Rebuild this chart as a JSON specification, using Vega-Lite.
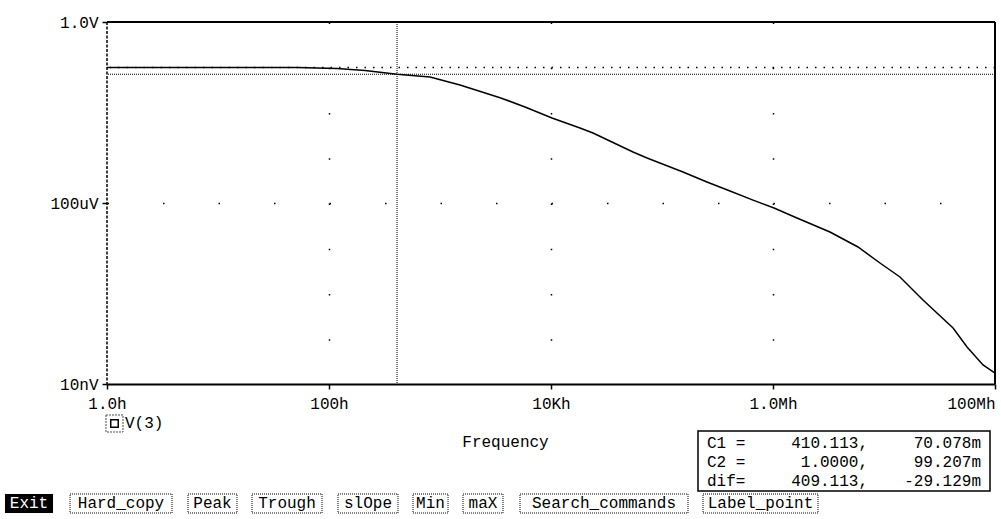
{
  "$schema": "https://vega.github.io/schema/vega-lite/v6.json",
  "width": 888,
  "height": 362,
  "autosize": {"type": "none"},
  "padding": {"left": 107, "top": 22, "right": 6, "bottom": 135},
  "background": "white",
  "config": {
    "view": {"stroke": null},
    "font": "Liberation Mono",
    "text": {"font": "Liberation Mono", "fontSize": 16, "color": "black", "baseline": "middle"}
  },
  "datasets": {
    "curve": [
      {"f": 1, "v": 0.0992}, {"f": 5, "v": 0.0992}, {"f": 20, "v": 0.0990}, {"f": 51.5, "v": 0.0982},
      {"f": 118, "v": 0.0938}, {"f": 211, "v": 0.0848}, {"f": 410.113, "v": 0.070078}, {"f": 813, "v": 0.0609},
      {"f": 1514, "v": 0.0405}, {"f": 3475, "v": 0.02123}, {"f": 5834, "v": 0.01324}, {"f": 10210, "v": 0.00755},
      {"f": 18240, "v": 0.00454}, {"f": 23900, "v": 0.00352}, {"f": 54800, "v": 0.00134}, {"f": 73300, "v": 0.000987},
      {"f": 154600, "v": 0.000484}, {"f": 254000, "v": 0.000291}, {"f": 410000, "v": 0.000184}, {"f": 661000, "v": 0.000116},
      {"f": 1021000, "v": 7.76e-5}, {"f": 1644000, "v": 4.67e-5}, {"f": 3260000, "v": 2.29e-5}, {"f": 5830000, "v": 1.066e-5},
      {"f": 9200000, "v": 4.72e-6}, {"f": 13930000, "v": 2.32e-6}, {"f": 22450000, "v": 7.18e-7}, {"f": 41900000, "v": 1.73e-7},
      {"f": 56000000, "v": 6.57e-8}, {"f": 78000000, "v": 2.63e-8}, {"f": 100000000, "v": 1.75e-8}
    ],
    "cursor": [
      {"lab": "C1 =", "xs": "410.113,", "ys": "70.078m", "v": 4.97e-10},
      {"lab": "C2 =", "xs": "1.0000,", "ys": "99.207m", "v": 1.89e-10},
      {"lab": "dif=", "xs": "409.113,", "ys": "-29.129m", "v": 7.18e-11}
    ],
    "menu": [
      {"label": "Exit", "f1": 0.1205, "f2": 0.3263, "fc": 0.1983},
      {"label": "Hard_copy", "f1": 0.4645, "f2": 3.852, "fc": 1.337},
      {"label": "Peak", "f1": 5.366, "f2": 14.83, "fc": 8.92},
      {"label": "Trough", "f1": 20.25, "f2": 86.5, "fc": 41.84},
      {"label": "slOpe", "f1": 120.5, "f2": 418.4, "fc": 224.6},
      {"label": "Min", "f1": 571.2, "f2": 1181, "fc": 821},
      {"label": "maX", "f1": 1612, "f2": 3694, "fc": 2440},
      {"label": "Search_commands", "f1": 5256, "f2": 171500, "fc": 30030},
      {"label": "Label_point", "f1": 234100, "f2": 2543000, "fc": 771600}
    ],
    "legend": [{"f": 1.168, "ft": 1.452, "v": 1.34e-9, "label": "V(3)"}]
  },
  "layer": [
    {
      "data": {"name": "curve"},
      "mark": {"type": "line", "stroke": "black", "strokeWidth": 1.5},
      "encoding": {
        "x": {
          "field": "f", "type": "quantitative",
          "scale": {"type": "log", "domain": [1, 100000000], "nice": false},
          "axis": {
            "values": [1, 100, 10000, 1000000, 100000000],
            "labelExpr": "datum.value < 10 ? '1.0h' : (datum.value < 1000 ? '100h' : (datum.value < 100000 ? '10Kh' : (datum.value < 10000000 ? '1.0Mh' : '100Mh')))",
            "labelFont": "Liberation Mono", "labelFontSize": 16, "labelColor": "black", "labelPadding": 6,
            "labelAlign": {"condition": {"test": "datum.value > 10000000", "value": "right"}, "value": "center"},
            "labelFlush": false, "labelOverlap": false,
            "tickColor": "black", "tickSize": 5, "tickWidth": 1.5,
            "domainColor": "black", "domainWidth": 2,
            "grid": true, "gridColor": "black", "gridWidth": 1.5, "gridDash": [1.5, 43.75],
            "gridOpacity": {"condition": {"test": "datum.value > 2 && datum.value < 50000000", "value": 1}, "value": 0},
            "title": "Frequency", "titleFont": "Liberation Mono", "titleFontSize": 16, "titleFontWeight": "normal",
            "titleColor": "black", "titleX": 398, "titleY": 57, "titleBaseline": "middle", "titleAlign": "center"
          }
        },
        "y": {
          "field": "v", "type": "quantitative",
          "scale": {"type": "log", "domain": [1e-8, 1], "nice": false},
          "axis": {
            "values": [1, 0.0001, 1e-8],
            "labelExpr": "datum.value > 0.5 ? '1.0V' : (datum.value > 0.000001 ? '100uV' : '10nV')",
            "labelFont": "Liberation Mono", "labelFontSize": 16, "labelColor": "black", "labelPadding": 4,
            "labelOverlap": false, "labelFlush": false,
            "domain": false,
            "tickColor": "black", "tickSize": 5, "tickWidth": 1.5,
            "grid": true, "gridColor": "black", "gridWidth": 1.5, "gridDash": [1.5, 54],
            "gridOpacity": {"condition": {"test": "datum.value > 1e-7 && datum.value < 0.1", "value": 1}, "value": 0},
            "title": null
          }
        }
      }
    },
    {
      "data": {"values": [{}]},
      "mark": {"type": "rule", "stroke": "black", "strokeWidth": 2},
      "encoding": {"y": {"datum": 1}}
    },
    {
      "data": {"values": [{}]},
      "mark": {"type": "rule", "stroke": "black", "strokeWidth": 2},
      "encoding": {"x": {"datum": 100000000}}
    },
    {
      "data": {"values": [{}]},
      "mark": {"type": "rule", "stroke": "black", "strokeWidth": 1.5, "strokeDash": [3, 1.5]},
      "encoding": {"x": {"datum": 1}}
    },
    {
      "data": {"values": [{}]},
      "mark": {"type": "rule", "stroke": "black", "strokeWidth": 1, "strokeDash": [1, 1]},
      "encoding": {"x": {"datum": 410.113}}
    },
    {
      "data": {"values": [{}]},
      "mark": {"type": "rule", "stroke": "black", "strokeWidth": 1, "strokeDash": [1, 1]},
      "encoding": {"y": {"datum": 0.070078}}
    },
    {
      "data": {"values": [{}]},
      "mark": {"type": "rule", "stroke": "black", "strokeWidth": 1.5, "strokeDash": [1.5, 7]},
      "encoding": {"y": {"datum": 0.099207}}
    },
    {
      "data": {"name": "legend"},
      "mark": {"type": "point", "shape": "square", "size": 289, "filled": false, "stroke": "black", "strokeWidth": 1, "strokeDash": [2, 1]},
      "encoding": {"x": {"field": "f", "type": "quantitative"}, "y": {"field": "v", "type": "quantitative"}}
    },
    {
      "data": {"name": "legend"},
      "mark": {"type": "point", "shape": "square", "size": 56, "filled": false, "stroke": "black", "strokeWidth": 1.5, "opacity": 1},
      "encoding": {"x": {"field": "f", "type": "quantitative"}, "y": {"field": "v", "type": "quantitative"}}
    },
    {
      "data": {"name": "legend"},
      "mark": {"type": "text", "align": "left"},
      "encoding": {"x": {"field": "ft", "type": "quantitative"}, "y": {"field": "v", "type": "quantitative"}, "text": {"field": "label"}}
    },
    {
      "data": {"values": [{}]},
      "mark": {"type": "rect", "fillOpacity": 0, "stroke": "black", "strokeWidth": 1.5},
      "encoding": {"x": {"datum": 211000}, "x2": {"datum": 90160000}, "y": {"datum": 9.14e-10}, "y2": {"datum": 4.32e-11}}
    },
    {
      "data": {"name": "cursor"},
      "mark": {"type": "text", "align": "left"},
      "encoding": {"x": {"datum": 254300}, "y": {"field": "v", "type": "quantitative"}, "text": {"field": "lab"}}
    },
    {
      "data": {"name": "cursor"},
      "mark": {"type": "text", "align": "right"},
      "encoding": {"x": {"datum": 7177000}, "y": {"field": "v", "type": "quantitative"}, "text": {"field": "xs"}}
    },
    {
      "data": {"name": "cursor"},
      "mark": {"type": "text", "align": "right"},
      "encoding": {"x": {"datum": 74780000}, "y": {"field": "v", "type": "quantitative"}, "text": {"field": "ys"}}
    },
    {
      "data": {"name": "menu"},
      "transform": [{"filter": "datum.label === 'Exit'"}],
      "mark": {"type": "rect", "fill": "black"},
      "encoding": {"x": {"field": "f1", "type": "quantitative"}, "x2": {"field": "f2"}, "y": {"datum": 3.71e-11}, "y2": {"datum": 1.41e-11}}
    },
    {
      "data": {"name": "menu"},
      "transform": [{"filter": "datum.label !== 'Exit'"}],
      "mark": {"type": "rect", "fillOpacity": 0, "stroke": "black", "strokeWidth": 1, "strokeDash": [1, 1]},
      "encoding": {"x": {"field": "f1", "type": "quantitative"}, "x2": {"field": "f2"}, "y": {"datum": 3.71e-11}, "y2": {"datum": 1.41e-11}}
    },
    {
      "data": {"name": "menu"},
      "mark": {"type": "text", "align": "center"},
      "encoding": {
        "x": {"field": "fc", "type": "quantitative"},
        "y": {"datum": 2.34e-11},
        "text": {"field": "label"},
        "color": {"condition": {"test": "datum.label === 'Exit'", "value": "white"}, "value": "black"}
      }
    }
  ]
}
